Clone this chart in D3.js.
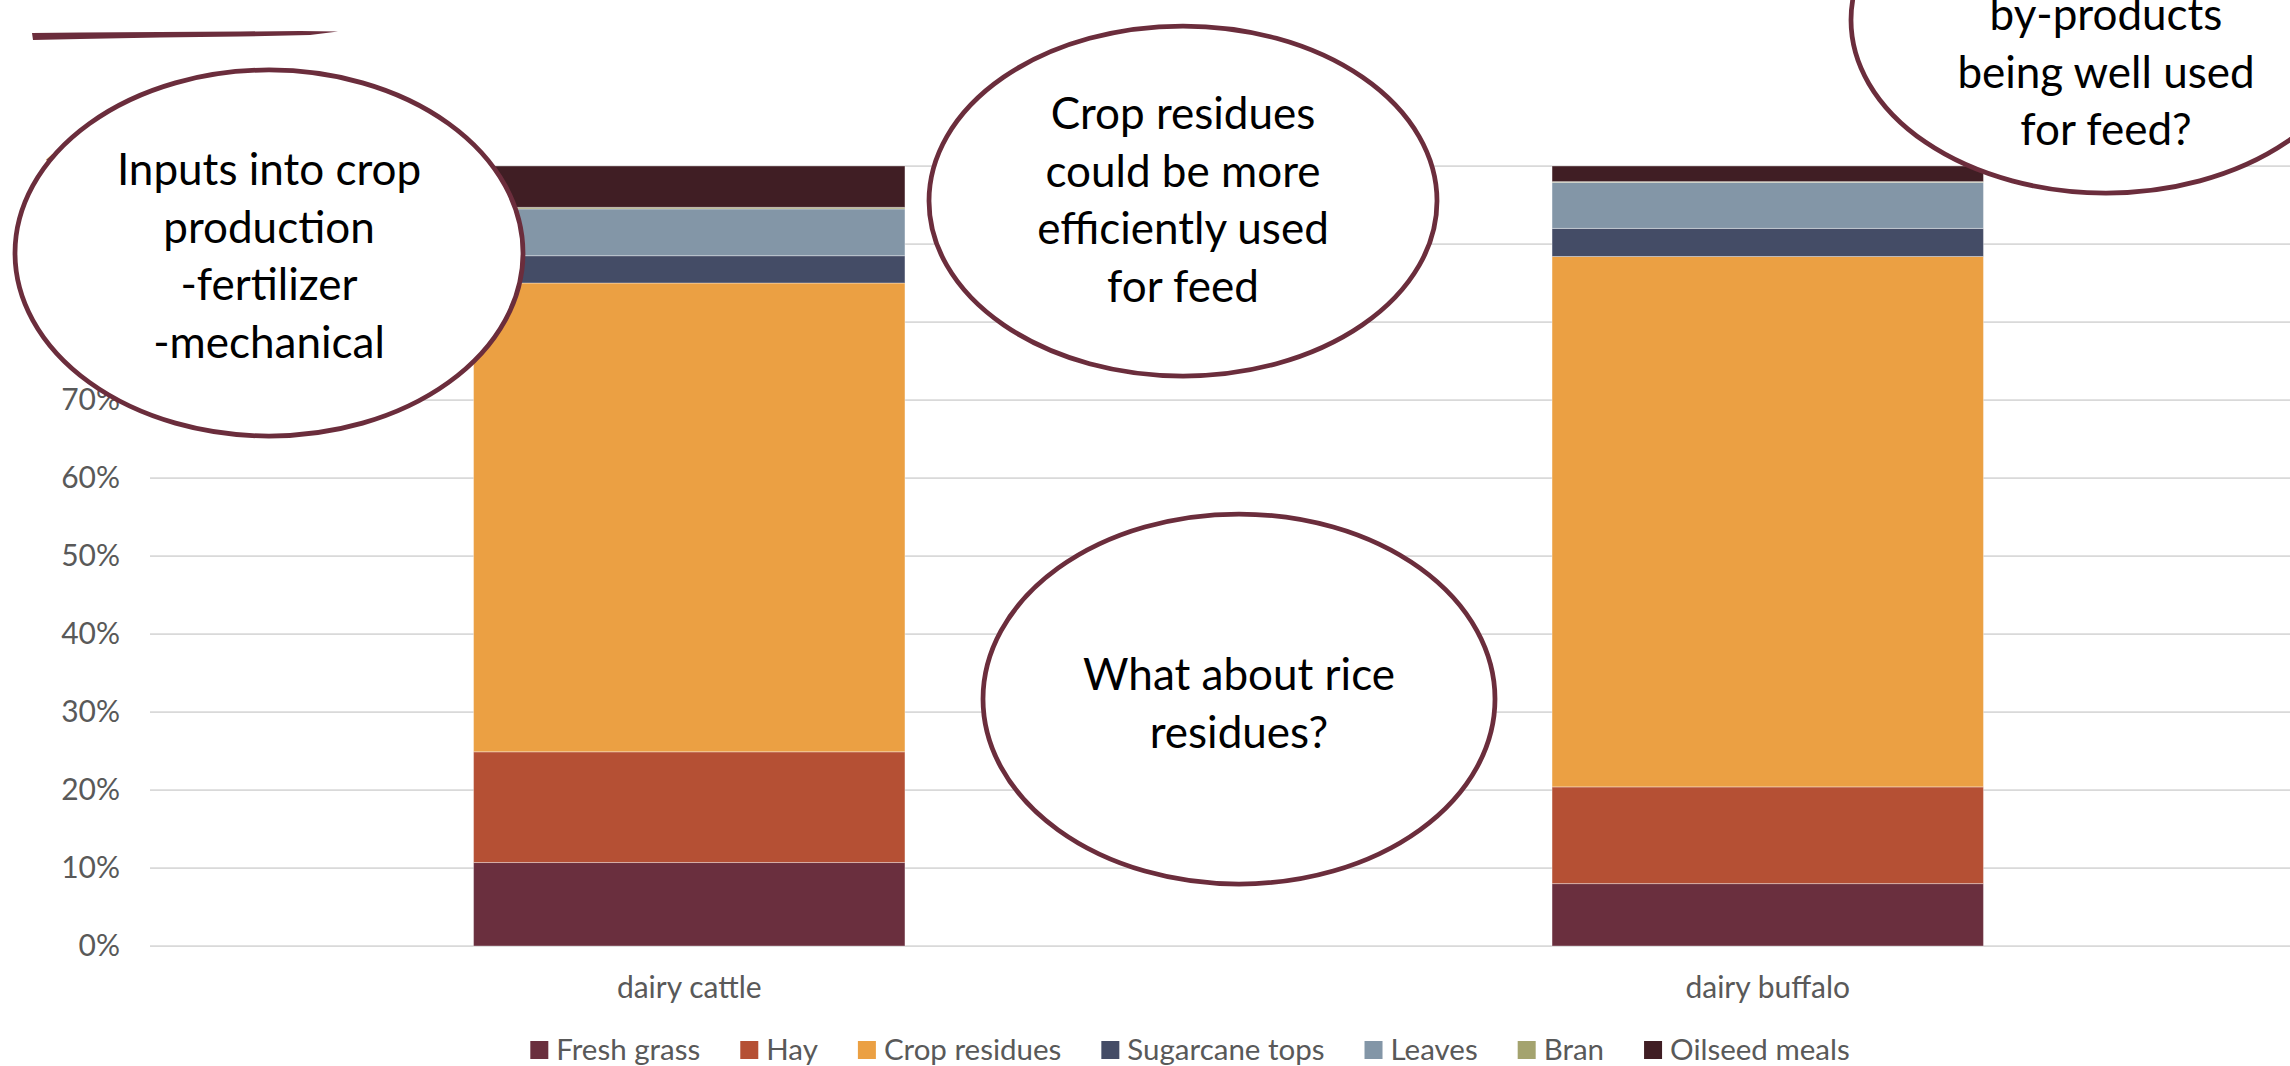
<!DOCTYPE html>
<html>
<head>
<meta charset="utf-8">
<script src="https://cdn.jsdelivr.net/npm/d3@7"></script>
<style>
  html, body { margin: 0; padding: 0; background: #ffffff; overflow: hidden; }
  svg { display: block; }
  text { font-family: Lato, "Open Sans", sans-serif; }
</style>
</head>
<body>
<svg id="chart" width="2290" height="1066"></svg>
<script>
// ---- data: feed composition (% of ration) ----
const categories = ["dairy cattle", "dairy buffalo"];
const seriesNames = ["Fresh grass", "Hay", "Crop residues", "Sugarcane tops", "Leaves", "Bran", "Oilseed meals"];
const freshGrass    = [10.7, 8.0];
const hay           = [14.2, 12.4];
const cropResidues  = [60.1, 68.0];
const sugarcaneTops = [3.5, 3.6];
const leaves        = [6.0, 5.9];
const bran          = [0.2, 0.1];
const oilseedMeals  = [5.3, 2.0];
const seriesColors  = ["#6a2f3e", "#b55034", "#eba043", "#444c66", "#8396a7", "#a4a36e", "#401e24"];
const yTicks        = [0, 10, 20, 30, 40, 50, 60, 70, 80, 90, 100];

// ---- callout notes ----
const notes = [
  { cx: 269,  cy: 253, rx: 254, ry: 183, lines: ["Inputs into crop", "production", "-fertilizer", "-mechanical"], first: 185 },
  { cx: 1183, cy: 201, rx: 254, ry: 175, lines: ["Crop residues", "could be more", "efficiently used", "for feed"], first: 129 },
  { cx: 1239, cy: 699, rx: 256, ry: 185, lines: ["What about rice", "residues?"], first: 690 },
  { cx: 2106, cy: 20,  rx: 255, ry: 173, lines: ["by-products", "being well used", "for feed?"], first: 30 }
];

const seriesValues = [freshGrass, hay, cropResidues, sugarcaneTops, leaves, bran, oilseedMeals];
const rows = categories.map((c, i) => {
  const r = { category: c };
  seriesNames.forEach((s, k) => { r[s] = seriesValues[k][i]; });
  return r;
});

const svg = d3.select("#chart");
const plot = { left: 150, right: 2307, top: 166, bottom: 946 };
const labelFont = "30px";

const x = d3.scaleBand()
  .domain(categories)
  .range([plot.left, plot.right])
  .paddingInner(0.6)
  .paddingOuter(0.3);

const y = d3.scaleLinear().domain([0, 100]).range([plot.bottom, plot.top]);

const color = d3.scaleOrdinal().domain(seriesNames).range(seriesColors);

// decorative brush stroke under the slide heading
svg.append("path")
  .attr("d", "M32,33 L80,32.5 L160,32 L240,31.5 L300,31 L338,31.5 L310,35 L240,36.5 L160,37.5 L80,39 L33,40 Z")
  .attr("fill", "#6b2d3c");

// gridlines
svg.append("g")
  .selectAll("line")
  .data(yTicks)
  .join("line")
  .attr("x1", plot.left)
  .attr("x2", plot.right)
  .attr("y1", d => y(d))
  .attr("y2", d => y(d))
  .attr("stroke", "#d9d9d9")
  .attr("stroke-width", 1.75);

// y axis labels
const yAxis = svg.append("g")
  .attr("transform", `translate(${plot.left - 30},0)`)
  .call(d3.axisLeft(y).tickValues(yTicks).tickFormat(d => d + "%").tickSize(0).tickPadding(0));
yAxis.select(".domain").remove();
yAxis.selectAll("text")
  .attr("fill", "#595959")
  .style("font-size", labelFont)
  .style("font-family", "Lato, 'Open Sans', sans-serif");

// stacked bars
const stacked = d3.stack().keys(seriesNames)(rows);
svg.append("g")
  .selectAll("g")
  .data(stacked)
  .join("g")
  .attr("fill", d => color(d.key))
  .selectAll("rect")
  .data(d => d)
  .join("rect")
  .attr("x", d => x(d.data.category))
  .attr("width", x.bandwidth())
  .attr("y", d => y(d[1]))
  .attr("height", d => y(d[0]) - y(d[1]))
  .attr("stroke", "rgba(255,255,255,0.35)")
  .attr("stroke-width", 1);

// category labels
const xAxis = svg.append("g")
  .attr("transform", `translate(0,${plot.bottom})`)
  .call(d3.axisBottom(x).tickSize(0).tickPadding(0));
xAxis.select(".domain").remove();
xAxis.selectAll("text")
  .attr("y", 0)
  .attr("dy", null)
  .attr("transform", "translate(0,52)")
  .attr("fill", "#595959")
  .style("font-size", labelFont)
  .style("font-family", "Lato, 'Open Sans', sans-serif");

// legend
const legend = svg.append("g");
const items = legend.selectAll("g")
  .data(seriesNames)
  .join("g");
items.append("rect")
  .attr("width", 18)
  .attr("height", 18)
  .attr("y", 1041)
  .attr("fill", d => color(d));
items.append("text")
  .attr("x", 26)
  .attr("y", 1060)
  .attr("fill", "#595959")
  .style("font-size", "29.5px")
  .text(d => d);
let cursor = 0;
items.each(function () {
  const w = this.querySelector("text").getComputedTextLength();
  d3.select(this).attr("transform", `translate(${cursor},0)`);
  cursor += 26 + w + 40;
});
const legendWidth = cursor - 40;
legend.attr("transform", `translate(${1190 - legendWidth / 2},0)`);

// callout ellipses with notes
const callouts = svg.append("g")
  .selectAll("g")
  .data(notes)
  .join("g");
callouts.append("ellipse")
  .attr("cx", d => d.cx)
  .attr("cy", d => d.cy)
  .attr("rx", d => d.rx)
  .attr("ry", d => d.ry)
  .attr("fill", "#ffffff")
  .attr("stroke", "#6b2d3c")
  .attr("stroke-width", 4.75);
callouts.each(function (d) {
  const t = d3.select(this).append("text")
    .attr("text-anchor", "middle")
    .attr("fill", "#000000")
    .style("font-size", "44px");
  d.lines.forEach((line, i) => {
    t.append("tspan")
      .attr("x", d.cx)
      .attr("y", d.first + i * 57.5)
      .text(line);
  });
});
</script>
</body>
</html>
